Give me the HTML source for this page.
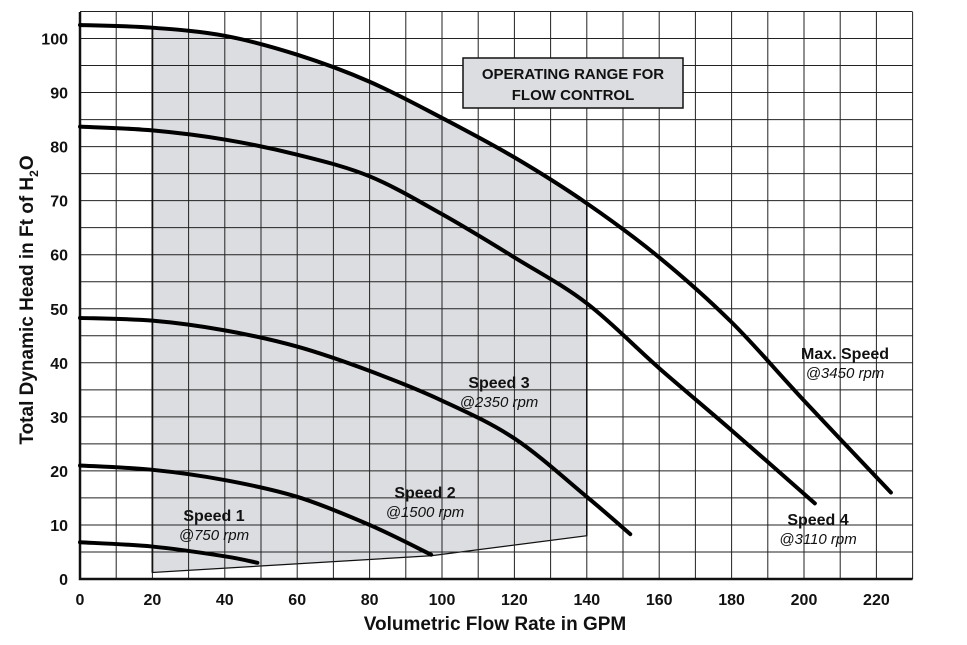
<!DOCTYPE html>
<html><head><meta charset="utf-8"><style>
body{margin:0;background:#fff;}
svg{display:block;font-family:"Liberation Sans",sans-serif;}
</style></head><body>
<svg id="chart" width="967" height="645"></svg>
<script>
const xTicks=[0,20,40,60,80,100,120,140,160,180,200,220];
const yTicks=[0,10,20,30,40,50,60,70,80,90,100];
const maxSpeed=[[0,102.5],[20,102],[40,100.5],[60,97],[80,92],[100,85.3],[120,78],[140,69.5],[160,59.5],[180,47.5],[200,33],[224,16]];
const speed4=[[0,83.7],[20,83],[40,81.3],[60,78.5],[80,74.5],[100,67.5],[120,59.5],[140,51],[160,39],[180,27.5],[203,14]];
const speed3=[[0,48.3],[20,47.8],[40,46],[60,43],[80,38.5],[100,33],[120,26],[140,15.2],[152,8.3]];
const speed2=[[0,21],[20,20.2],[40,18.3],[60,15.2],[80,10],[97,4.5]];
const speed1=[[0,6.8],[20,6],[40,4.2],[49,3]];
const rangeBottom=[[20,1.2],[97,4.3],[140,8]];
const X=v=>80+v*3.62, Y=v=>579-v*5.405;
const NS="http://www.w3.org/2000/svg", svg=document.getElementById('chart');
function mk(t,a,p){const e=document.createElementNS(NS,t);for(const k in a)e.setAttribute(k,a[k]);(p||svg).appendChild(e);return e;}
// interpolate max curve for shaded top
function interp(arr,x){for(let i=1;i<arr.length;i++){if(x<=arr[i][0]){const a=arr[i-1],b=arr[i];return a[1]+(b[1]-a[1])*(x-a[0])/(b[0]-a[0]);}}return arr[arr.length-1][1];}
function smooth(arr){let d='M'+X(arr[0][0])+','+Y(arr[0][1]);for(let i=0;i<arr.length-1;i++){const p0=arr[Math.max(i-1,0)],p1=arr[i],p2=arr[i+1],p3=arr[Math.min(i+2,arr.length-1)];const c1x=X(p1[0])+(X(p2[0])-X(p0[0]))/6,c1y=Y(p1[1])+(Y(p2[1])-Y(p0[1]))/6,c2x=X(p2[0])-(X(p3[0])-X(p1[0]))/6,c2y=Y(p2[1])-(Y(p3[1])-Y(p1[1]))/6;d+=` C${c1x},${c1y} ${c2x},${c2y} ${X(p2[0])},${Y(p2[1])}`;}return d;}
// shaded region
let pts=[];
for(let g=rangeBottom[rangeBottom.length-1][0];g>=rangeBottom[0][0];g-=2)pts.push(X(g)+','+Y(interp(maxSpeed,g)));
rangeBottom.forEach(p=>pts.push(X(p[0])+','+Y(p[1])));
const shade=mk('polygon',{points:pts.join(' '),fill:'#dcdde0',stroke:'#111','stroke-width':1.2});


// grid
for(let g=10;g<=230;g+=10){const l=mk('line',{x1:X(g),x2:X(g),y1:12,y2:Y(0),stroke:'#222','stroke-width':1});

}
for(let g=5;g<=105;g+=5){const l=mk('line',{x1:X(0),x2:X(230),y1:Y(g),y2:Y(g),stroke:'#222','stroke-width':1});

}
// re-draw shade border on x=20 / x=140
mk('line',{x1:X(20),x2:X(20),y1:Y(interp(maxSpeed,20)),y2:Y(1.2),stroke:'#111','stroke-width':1.8});
mk('line',{x1:X(140),x2:X(140),y1:Y(interp(maxSpeed,140)),y2:Y(8),stroke:'#111','stroke-width':1.5});
// axes
const ax=mk('path',{d:`M${X(0)},12 L${X(0)},${Y(0)} L${X(230)},${Y(0)}`,fill:'none',stroke:'#111','stroke-width':2.5});


xTicks.forEach(t=>{const e=mk('text',{x:X(t),y:605,'text-anchor':'middle','font-size':16,'font-weight':'bold',fill:'#111'});e.textContent=t;

});
yTicks.forEach(t=>{const e=mk('text',{x:68,y:Y(t)+6,'text-anchor':'end','font-size':16,'font-weight':'bold',fill:'#111'});e.textContent=t;

});
// curves
[[maxSpeed,'curve-max-speed'],[speed4,'curve-speed-4'],[speed3,'curve-speed-3'],[speed2,'curve-speed-2'],[speed1,'curve-speed-1']].forEach(([a,n])=>{
const p=mk('path',{d:smooth(a),fill:'none',stroke:'#000','stroke-width':4,'stroke-linecap':'round'});

});
// labels
function lbl(x,y,t1,t2,n){const g=mk('g',{});


const w=Math.max(t1.length,t2.length)*9;mk('rect',{x:x-w/2,y:y-18,width:w,height:40,fill:'#dcdde0',opacity:0},g);
const a=mk('text',{x:x,y:y,'text-anchor':'middle','font-size':16,'font-weight':'bold',fill:'#111'},g);a.textContent=t1;
const b=mk('text',{x:x,y:y+19,'text-anchor':'middle','font-size':15,'font-style':'italic',fill:'#111'},g);b.textContent=t2;}
lbl(214,521,'Speed 1','@750 rpm','label-speed-1');
lbl(425,498,'Speed 2','@1500 rpm','label-speed-2');
lbl(499,388,'Speed 3','@2350 rpm','label-speed-3');
lbl(818,525,'Speed 4','@3110 rpm','label-speed-4');
lbl(845,359,'Max. Speed','@3450 rpm','label-max-speed');
const box=mk('g',{});


mk('rect',{x:463,y:58,width:220,height:50,fill:'#dcdde0',stroke:'#111','stroke-width':1.5},box);
let t=mk('text',{x:573,y:79,'text-anchor':'middle','font-size':15,'font-weight':'bold',fill:'#111'},box);t.textContent='OPERATING RANGE FOR';
t=mk('text',{x:573,y:100,'text-anchor':'middle','font-size':15,'font-weight':'bold',fill:'#111'},box);t.textContent='FLOW CONTROL';
t=mk('text',{x:495,y:630,'text-anchor':'middle','font-size':19,'font-weight':'bold',fill:'#111'});t.textContent='Volumetric Flow Rate in GPM';


t=mk('text',{x:0,y:0,'text-anchor':'middle','font-size':19,'font-weight':'bold',fill:'#111',transform:'translate(33,300) rotate(-90)'});
t.innerHTML='Total Dynamic Head in Ft of H<tspan font-size="12" dy="5">2</tspan><tspan dy="-5">O</tspan>';


</script>
</body></html>
